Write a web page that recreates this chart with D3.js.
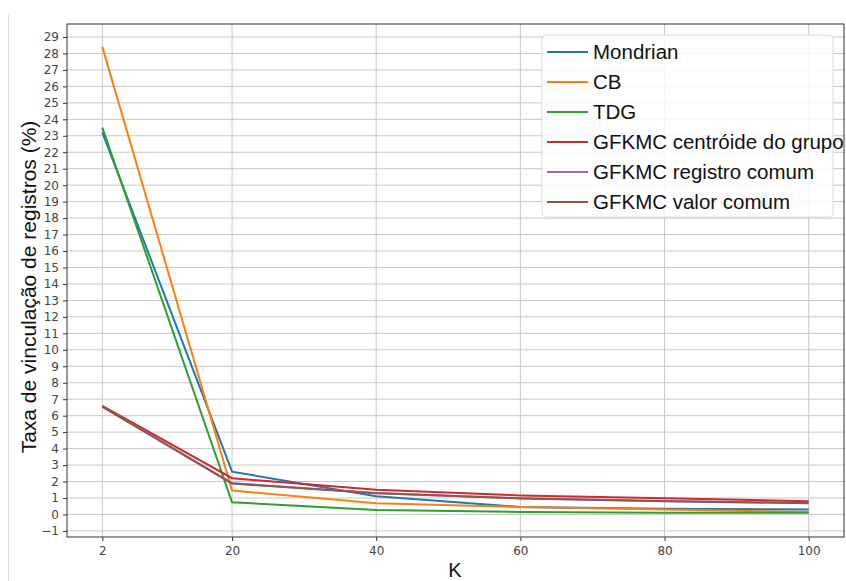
<!DOCTYPE html>
<html>
<head>
<meta charset="utf-8">
<script src="https://cdn.jsdelivr.net/npm/d3@7"></script>
<style>
  body { margin: 0; background: #fff; }
  svg text { font-family: "Liberation Sans", Arial, sans-serif; }
  svg .tick text { font-family: "DejaVu Sans", sans-serif; }
</style>
</head>
<body>
<div id="chart"></div>
<script>
const kValues = [2, 20, 40, 60, 80, 100];
const mondrian = [23.2, 2.6, 1.1, 0.45, 0.35, 0.3];
const cb = [28.4, 1.45, 0.68, 0.45, 0.3, 0.15];
const tdg = [23.5, 0.74, 0.27, 0.15, 0.1, 0.1];
const gfkmcCentroide = [6.6, 2.2, 1.5, 1.15, 0.98, 0.8];
const gfkmcRegistro = [6.55, 1.9, 1.3, 0.98, 0.82, 0.7];
const gfkmcValor = [6.55, 1.88, 1.28, 0.97, 0.8, 0.68];
const seriesNames = ['Mondrian', 'CB', 'TDG', 'GFKMC centróide do grupo', 'GFKMC registro comum', 'GFKMC valor comum'];
const xTicks = [2, 20, 40, 60, 80, 100];
const yTicks = d3.range(-1, 30);

const series = [mondrian, cb, tdg, gfkmcCentroide, gfkmcRegistro, gfkmcValor];
const colors = ['#1f77b4', '#ff7f0e', '#2ca02c', '#d62728', '#9467bd', '#8c564b'];

const W = 846, H = 581;
const margin = { top: 24, right: 2, bottom: 44, left: 67 };
const width = W - margin.left - margin.right;
const height = H - margin.top - margin.bottom;

const root = d3.select('#chart').append('svg')
  .attr('width', W)
  .attr('height', H);

// faint border line at left of the screenshot
root.append('line')
  .attr('x1', 8.5).attr('x2', 8.5)
  .attr('y1', 15).attr('y2', H)
  .attr('stroke', '#d8d8d8');

const svg = root.append('g')
  .attr('transform', `translate(${margin.left},${margin.top})`);

const x = d3.scaleLinear().domain([-2.9, 104.9]).range([0, width]);
const y = d3.scaleLinear().domain([-1.37, 29.79]).range([height, 0]);

// grid
svg.append('g')
  .selectAll('line')
  .data(yTicks)
  .enter().append('line')
  .attr('x1', 0).attr('x2', width)
  .attr('y1', d => y(d)).attr('y2', d => y(d))
  .attr('stroke', '#c8c8c8').attr('stroke-width', 1);
svg.append('g')
  .selectAll('line')
  .data(xTicks)
  .enter().append('line')
  .attr('x1', d => x(d)).attr('x2', d => x(d))
  .attr('y1', 0).attr('y2', height)
  .attr('stroke', '#c8c8c8').attr('stroke-width', 1);

// axes
const xAxis = svg.append('g')
  .attr('transform', `translate(0,${height})`)
  .call(d3.axisBottom(x).tickValues(xTicks).tickSize(4).tickPadding(5));
xAxis.selectAll('text').style('font-size', '12px').attr('fill', '#444');

const yAxis = svg.append('g')
  .call(d3.axisLeft(y).tickValues(yTicks).tickSize(4).tickPadding(4).tickFormat(d => d < 0 ? '\u2212' + Math.abs(d) : d));
yAxis.selectAll('text').style('font-size', '12px').attr('fill', '#444');
svg.selectAll('.tick line').attr('stroke', '#333');
svg.selectAll('.domain').remove();

// lines
const line = d3.line()
  .x((d, i) => x(kValues[i]))
  .y(d => y(d));

series.forEach((s, i) => {
  svg.append('path')
    .datum(s)
    .attr('fill', 'none')
    .attr('stroke', colors[i])
    .attr('stroke-width', 2)
    .attr('d', line);
});

// frame
svg.append('rect')
  .attr('x', 0).attr('y', 0)
  .attr('width', width).attr('height', height)
  .attr('fill', 'none')
  .attr('stroke', '#333').attr('stroke-width', 1);

// legend
const legend = root.append('g');
legend.append('rect')
  .attr('x', 542).attr('y', 35)
  .attr('width', 291).attr('height', 182)
  .attr('rx', 4)
  .attr('fill', 'rgba(255,255,255,0.85)')
  .attr('stroke', '#dcdcdc');

seriesNames.forEach((name, i) => {
  const ly = 52 + i * 30;
  legend.append('line')
    .attr('x1', 547).attr('x2', 588)
    .attr('y1', ly).attr('y2', ly)
    .attr('stroke', colors[i]).attr('stroke-width', 2);
  legend.append('text')
    .attr('x', 593).attr('y', ly)
    .attr('dy', '0.35em')
    .style('font-size', '20.5px')
    .attr('fill', '#111')
    .text(name);
});

// axis labels
root.append('text')
  .attr('transform', 'translate(29,287) rotate(-90)')
  .attr('text-anchor', 'middle')
  .attr('dy', '0.35em')
  .style('font-size', '21px')
  .attr('fill', '#111')
  .text('Taxa de vinculação de registros (%)');

root.append('text')
  .attr('x', 455).attr('y', 570)
  .attr('text-anchor', 'middle')
  .attr('dy', '0.35em')
  .style('font-size', '20px')
  .attr('fill', '#111')
  .text('K');
</script>
</body>
</html>
